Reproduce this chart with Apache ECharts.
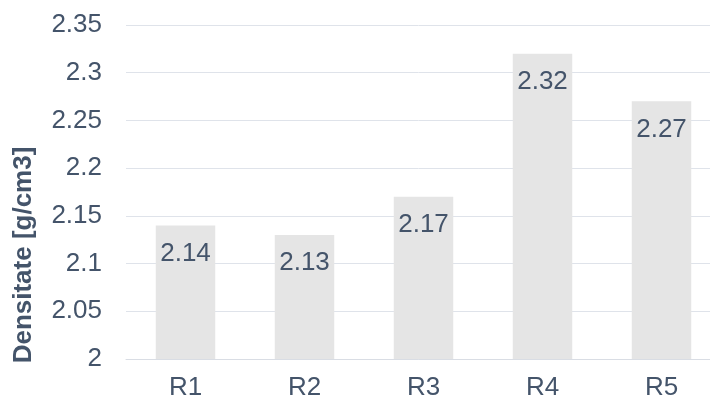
<!DOCTYPE html>
<html>
<head>
<meta charset="utf-8">
<script src="https://cdn.jsdelivr.net/npm/echarts@6/dist/echarts.min.js"></script>
<style>
  html, body { margin: 0; padding: 0; background: #fff; }
  #chart { width: 710px; height: 403px; }
</style>
</head>
<body>
<div id="chart"></div>
<script>
const categories = ['R1', 'R2', 'R3', 'R4', 'R5'];
const densities = [2.14, 2.13, 2.17, 2.32, 2.27];
const yTicks = { min: 2, max: 2.35, step: 0.05 };

const textColor = '#44546a';
const font = '"Liberation Sans", Arial, sans-serif';

const chart = echarts.init(document.getElementById('chart'));

chart.setOption({
  animation: false,
  // the original plot runs a little past the right edge of the picture
  grid: { left: 126, width: 595, top: 25, bottom: 44, outerBoundsMode: 'none' },
  xAxis: {
    type: 'category',
    data: categories,
    axisLine: { lineStyle: { color: '#d9dde4', width: 1 } },
    axisTick: { show: false },
    axisLabel: { color: textColor, fontSize: 26, fontFamily: font, margin: 16 }
  },
  yAxis: {
    type: 'value',
    min: yTicks.min,
    max: yTicks.max,
    interval: yTicks.step,
    name: 'Densitate [g/cm3]',
    nameLocation: 'middle',
    nameGap: 89,
    nameTextStyle: {
      color: textColor, fontSize: 26, fontWeight: 'bold', fontFamily: font,
      padding: [0, 126, 0, 0]
    },
    axisLabel: {
      color: textColor, fontSize: 26, fontFamily: font, margin: 24,
      formatter: v => String(Math.round(v * 100) / 100)
    },
    splitLine: { lineStyle: { color: '#dfe3ea', width: 1 } },
    axisLine: { show: false },
    axisTick: { show: false }
  },
  series: [{
    type: 'bar',
    data: densities,
    barWidth: '50%',
    itemStyle: { color: '#e5e5e5' },
    label: {
      show: true,
      position: 'insideTop',
      distance: 15,
      color: textColor,
      fontSize: 26,
      fontFamily: font
    }
  }]
});
</script>
</body>
</html>
